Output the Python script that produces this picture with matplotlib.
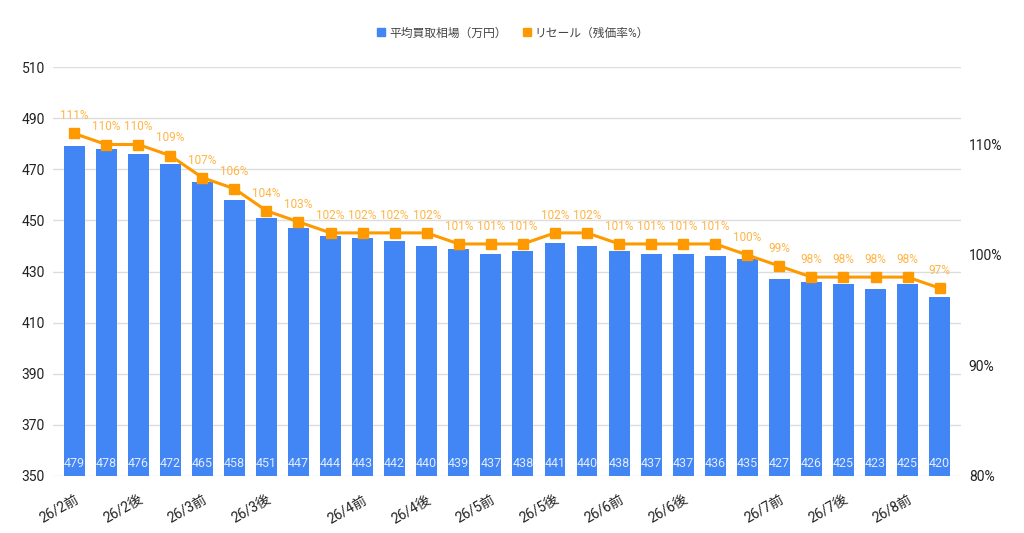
import numpy as np
import matplotlib.pyplot as plt
from matplotlib.lines import Line2D

plt.rcParams['font.family'] = ['Roboto', 'Noto Sans CJK JP', 'DejaVu Sans']

# 28 periods, only some carry a label on the axis
tick_labels = ['26/2前', '', '26/2後', '', '26/3前', '', '26/3後', '', '',
               '26/4前', '', '26/4後', '', '26/5前', '', '26/5後', '', '26/6前',
               '', '26/6後', '', '', '26/7前', '', '26/7後', '', '26/8前', '']
price = [479, 478, 476, 472, 465, 458, 451, 447, 444, 443, 442, 440, 439, 437,
         438, 441, 440, 438, 437, 437, 436, 435, 427, 426, 425, 423, 425, 420]
resale = [111, 110, 110, 109, 107, 106, 104, 103, 102, 102, 102, 102, 101, 101,
          101, 102, 102, 101, 101, 101, 101, 100, 99, 98, 98, 98, 98, 97]
series_names = ['平均買取相場（万円）', 'リセール（残価率%）']

bar_color = '#4285F4'
line_color = '#FF9900'

fig = plt.figure(figsize=(10.24, 5.33), dpi=100)
ax = fig.add_axes([0.052, 0.107, 0.886, 0.767])
ax2 = ax.twinx()

x = np.arange(len(price))
ax.bar(x, price, width=0.65, color=bar_color, zorder=2)
for xi, v in zip(x, price):
    ax.text(xi, 352.3, str(v), ha='center', va='bottom', fontsize=9,
            color='#E3ECFD', zorder=3)

ax.set_ylim(350, 510)
ax.set_yticks(range(350, 511, 20))
ax.set_xlim(-0.65, len(price) - 0.35)
ax.grid(axis='y', color='#DDDDDD', linewidth=1, zorder=0)
ax.set_xticks(x)
ax.set_xticklabels(tick_labels, rotation=30, ha='right', rotation_mode='anchor',
                   fontsize=10, color='#222222')
ax.tick_params(axis='x', length=0, pad=12)
ax.tick_params(axis='y', length=0, labelsize=10, labelcolor='#222222', pad=6)
for s in ax.spines.values():
    s.set_visible(False)

ax2.plot(x, resale, color=line_color, linewidth=2.2, marker='s', markersize=6.5,
         zorder=4)
for xi, v in zip(x, resale):
    ax2.annotate(f'{v}%', (xi, v), xytext=(0, 8), textcoords='offset points',
                 ha='center', va='bottom', fontsize=8.5, color='#FFB444')
ax2.set_ylim(80, 117)
ax2.set_yticks([80, 90, 100, 110])
ax2.set_yticklabels(['80%', '90%', '100%', '110%'])
ax2.tick_params(axis='y', length=0, labelsize=10, labelcolor='#222222', pad=6)
for s in ax2.spines.values():
    s.set_visible(False)

handles = [Line2D([], [], marker='s', linestyle='', color=bar_color, markersize=6),
           Line2D([], [], marker='s', linestyle='', color=line_color, markersize=6)]
leg = fig.legend(handles, series_names, loc='center', bbox_to_anchor=(0.5, 0.938),
                 ncol=2, frameon=False, fontsize=8.5, handletextpad=0.2,
                 columnspacing=1.2, handlelength=1.0)
for t in leg.get_texts():
    t.set_color('#444444')

fig.savefig('out.png', dpi=100)
